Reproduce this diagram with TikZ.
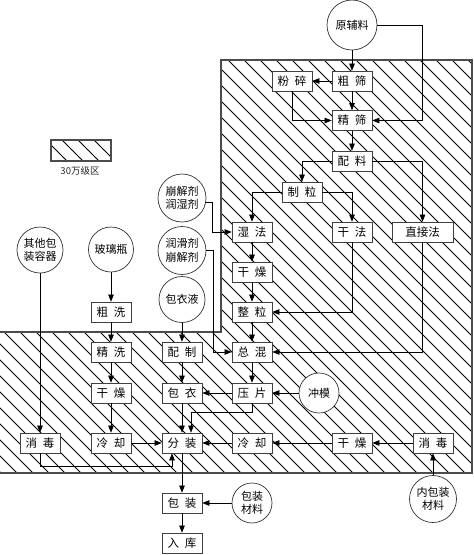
\documentclass[tikz,border=0pt]{standalone}
\usepackage{fontspec}
\setmainfont{Noto Sans CJK SC}
\usetikzlibrary{arrows.meta,shadows,calc}
\begin{document}
\begin{tikzpicture}[x=1pt,y=-1pt,
 box/.style={draw=black!75, line width=0.7pt, fill=white, minimum width=40pt, minimum height=20pt, inner sep=0pt, font=\fontsize{11.5}{13}\selectfont, text=black, drop shadow={shadow xshift=0.8pt, shadow yshift=-0.8pt, fill=black!60, opacity=1}},
 circ/.style={draw=black!80, line width=0.7pt, fill=white, circle, inner sep=0pt, align=center, font=\fontsize{11}{13.5}\selectfont, text=black},
 arr/.style={-{Triangle[length=7pt,width=5.5pt]}, line width=0.6pt, black},
 hatch/.style={line width=0.8pt, black},
 zone/.style={line width=1.4pt, black!70}]
\useasboundingbox (0,0) rectangle (474,555);
% hatched zone
\begin{scope}
\clip (0,332) -- (221,332) -- (221,60) -- (472,60) -- (472,473) -- (0,473) -- cycle;
\foreach \k in {-560,-544,...,480} \draw[hatch] (\k,40) -- ++(540,540);
\end{scope}
\draw[zone] (0,332) -- (221,332) -- (221,60) -- (472,60) -- (472,473) -- (0,473);
% legend
\begin{scope}
\clip (51,140) rectangle (111,161);
\foreach \k in {4,20,...,116} \draw[hatch] (\k,130) -- ++(40,40);
\end{scope}
\draw[zone] (51,140) rectangle (111,161);
\node[font=\fontsize{9.5}{11}\selectfont, text=black!85] (lg) at (80,171) {30万级区};
% nodes
\node[circ, minimum size=50pt] (yfl) at (352,25) {原辅料};
\node[box] (fs) at (292,81) {粉\hspace{6pt}碎};
\node[box] (cs) at (352,81) {粗\hspace{6pt}筛};
\node[box] (jings) at (352,120.5) {精\hspace{6pt}筛};
\node[box] (pl) at (352,161) {配\hspace{6pt}料};
\node[box] (zl) at (302,192) {制\hspace{6pt}粒};
\node[circ, minimum size=48pt] (c1) at (182,198) {崩解剂\\润湿剂};
\node[box] (sf) at (252,232) {湿\hspace{6pt}法};
\node[box] (gf) at (352,232) {干\hspace{6pt}法};
\node[box, minimum width=61pt] (zjf) at (422.5,232) {直接法};
\node[circ, minimum size=48pt] (c2) at (182,250.5) {润滑剂\\崩解剂};
\node[box] (gz1) at (252,272) {干\hspace{6pt}燥};
\node[box] (zhl) at (252,312) {整\hspace{6pt}粒};
\node[circ, minimum size=46pt] (c3) at (182,299.5) {包衣液};
\node[box] (zh) at (252,352) {总\hspace{6pt}混};
\node[box] (pz) at (182,352) {配\hspace{6pt}制};
\node[box] (by) at (182,393) {包\hspace{6pt}衣};
\node[box] (yp) at (252,393) {压\hspace{6pt}片};
\node[circ, minimum size=40pt] (cm) at (319,393) {冲模};
\node[box] (fz) at (182,443) {分\hspace{6pt}装};
\node[box] (lq2) at (252,443) {冷\hspace{6pt}却};
\node[box] (gz3) at (352,443) {干\hspace{6pt}燥};
\node[box] (xd2) at (433,443) {消\hspace{6pt}毒};
\node[circ, minimum size=47pt] (nbz) at (433,499) {内包装\\材料};
\node[circ, minimum size=46pt] (qt) at (40,250) {其他包\\装容器};
\node[circ, minimum size=45pt] (bl) at (111,249.5) {玻璃瓶};
\node[box] (cx) at (111,312) {粗\hspace{6pt}洗};
\node[box] (jx) at (111,352) {精\hspace{6pt}洗};
\node[box] (gz2) at (111,393) {干\hspace{6pt}燥};
\node[box] (lq1) at (111,443) {冷\hspace{6pt}却};
\node[box] (xd1) at (40,443) {消\hspace{6pt}毒};
\node[box] (bz) at (182,503) {包\hspace{6pt}装};
\node[box] (rk) at (182,543) {入\hspace{6pt}库};
\node[circ, minimum size=40pt] (bzcl) at (252,503) {包装\\材料};
% connectors
\draw[arr] (yfl.south) -- (cs.north);
\draw[arr] (yfl.east) -| (zjf.north |- jings.east) -- (jings.east);
\draw[arr] (cs.west) -- (fs.east);
\draw[arr] (cs.south) -- (jings.north);
\draw[arr] (fs.south) |- (jings.west);
\draw[arr] (jings.south) -- (pl.north);
\draw[arr] (pl.west) -| (zl.north);
\draw[arr] (pl.east) -| (zjf.north);
\draw[arr] (zl.west) -| (sf.north);
\draw[arr] (zl.east) -| (gf.north);
\draw[arr] (c1.-10) -- ++(6.5,0) |- (sf.west);
\draw[arr] (sf.south) -- (gz1.north);
\draw[arr] (gz1.south) -- (zhl.north);
\draw[arr] (zhl.south) -- (zh.north);
\draw[arr] (gf.south) |- (zhl.east);
\draw[arr] (zjf.south) |- (zh.east);
\draw[arr] (c2.east) -- ++(7,0) |- (zh.west);
\draw[arr] (zh.south) -- (yp.north);
\draw[arr] (cm.west) -- (yp.east);
\draw[arr] (yp.west) -- (by.east);
\draw[arr] (c3.south) -- (pz.north);
\draw[arr] (pz.south) -- (by.north);
\draw[arr] (by.south) -- (fz.north);
\draw[arr] (yp.south) -- ++(0,9) -| ([xshift=9pt]fz.north);
\draw[arr] (lq2.west) -- (fz.east);
\draw[arr] (gz3.west) -- (lq2.east);
\draw[arr] (xd2.west) -- (gz3.east);
\draw[arr] (nbz.north) -- (xd2.south);
\draw[arr] (bl.south) -- (cx.north);
\draw[arr] (cx.south) -- (jx.north);
\draw[arr] (jx.south) -- (gz2.north);
\draw[arr] (gz2.south) -- (lq1.north);
\draw[arr] (lq1.east) -- (fz.west);
\draw[arr] (qt.south) -- (xd1.north);
\draw[arr] (xd1.south) -- ++(0,13) -| ([xshift=-10pt]fz.south);
\draw[arr] (fz.south) -- (bz.north);
\draw[arr] (bz.south) -- (rk.north);
\draw[arr] (bzcl.west) -- (bz.east);
\end{tikzpicture}
\end{document}
